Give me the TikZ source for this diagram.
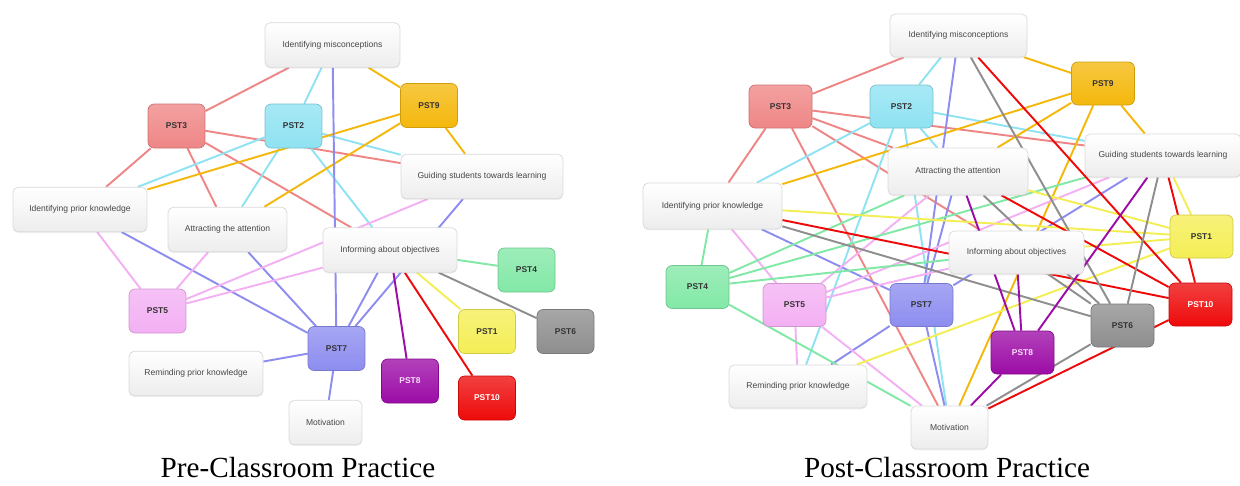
\documentclass[tikz,border=0pt]{standalone}
\usepackage{fontspec}
\setmainfont{Liberation Sans}
\newfontfamily\capfont{Liberation Serif}
\usetikzlibrary{shadows}

\pgfdeclarelayer{background}
\pgfsetlayers{background,main}

\definecolor{colOne}{HTML}{F4EE55}
\definecolor{colTwo}{HTML}{8FE2F2}
\definecolor{colThree}{HTML}{EF8686}
\definecolor{colFour}{HTML}{82E8A6}
\definecolor{colFive}{HTML}{F3B0F3}
\definecolor{colSix}{HTML}{8E8E8E}
\definecolor{colSeven}{HTML}{8D8DF0}
\definecolor{colEight}{HTML}{9C0CA6}
\definecolor{colNine}{HTML}{F4B80C}
\definecolor{colTen}{HTML}{EE0A0A}

\tikzset{
  pst/.style = {draw = #1!85!black, rounded corners = 3.5pt, top color = #1!78!white, bottom color = #1,
    minimum width = 1.14cm, minimum height = 0.88cm, inner sep = 0pt,
    font = \fontsize{4.8}{6}\selectfont\bfseries, text = black!80},
  rpst/.style = {pst = #1, minimum width = 1.26cm, minimum height = 0.86cm},
  box/.style = {draw = black!15, rounded corners = 3pt, top color = white, bottom color = black!7,
    minimum height = 0.89cm, inner sep = 0pt, font = \fontsize{4.85}{6}\selectfont, text = black!72,
    drop shadow = {opacity = 0.12, shadow xshift = 0pt, shadow yshift = -0.8pt}},
  link/.style = {line width = 1.1pt, draw = #1},
  caption/.style = {anchor = base, font = \capfont\fontsize{16.6}{20}\selectfont}
}

\begin{document}
\begin{tikzpicture} [x = 0.02cm, y = -0.02cm]
\useasboundingbox (0, 0) rectangle (1240, 485);

% Pre-classroom
\node[box, minimum width = 2.70cm] (lim) at (332.5, 45.0){Identifying misconceptions};
\node[box, minimum width = 3.24cm] (lgsl) at (482.0, 176.5){Guiding students towards learning};
\node[box, minimum width = 2.68cm] (lipk) at (80.0, 209.5){Identifying prior knowledge};
\node[box, minimum width = 2.38cm] (laa) at (227.5, 229.5){Attracting the attention};
\node[box, minimum width = 2.68cm] (liao) at (390.0, 250.0){Informing about objectives};
\node[box, minimum width = 2.68cm] (lrpk) at (196.0, 373.5){Reminding prior knowledge};
\node[box, minimum width = 1.46cm] (lmot) at (325.5, 422.5){Motivation};
\node[pst = colThree] (l3) at (176.5, 126.0){PST3};
\node[pst = colTwo] (l2) at (293.5, 126.0){PST2};
\node[pst = colNine] (l9) at (429.0, 105.5){PST9};
\node[pst = colFour] (l4) at (526.5, 270.0){PST4};
\node[pst = colFive] (l5) at (157.5, 311.0){PST5};
\node[pst = colOne] (l1) at (487.0, 331.5){PST1};
\node[pst = colSix] (l6) at (565.5, 331.5){PST6};
\node[pst = colSeven] (l7) at (336.5, 348.5){PST7};
\node[pst = colEight, text = colFive!40!white] (l8) at (410.0, 381.0){PST8};
\node[pst = colTen, text = white] (l10) at (487.0, 398.0){PST10};
\node[caption] (lcap) at (298.0, 477.0){Pre-Classroom Practice};

% Post-classroom
\node[box, minimum width = 2.74cm, minimum height = 0.86cm] (rim) at (958.5, 35.5){Identifying misconceptions};
\node[box, minimum width = 3.12cm, minimum height = 0.86cm] (rgsl) at (1163.0, 155.5){Guiding students towards learning};
\node[box, minimum width = 2.78cm, minimum height = 0.92cm] (ripk) at (712.5, 206.0){Identifying prior knowledge};
\node[box, minimum width = 2.80cm, minimum height = 0.94cm] (raa) at (958.0, 171.5){Attracting the attention};
\node[box, minimum width = 2.70cm, minimum height = 0.86cm] (riao) at (1016.5, 252.5){Informing about objectives};
\node[box, minimum width = 2.76cm, minimum height = 0.86cm] (rrpk) at (798.0, 386.5){Reminding prior knowledge};
\node[box, minimum width = 1.54cm, minimum height = 0.86cm] (rmot) at (949.5, 427.5){Motivation};
\node[rpst = colThree] (r3) at (780.5, 106.5){PST3};
\node[rpst = colTwo] (r2) at (901.5, 106.5){PST2};
\node[rpst = colNine] (r9) at (1103.0, 83.5){PST9};
\node[rpst = colOne] (r1) at (1201.5, 236.5){PST1};
\node[rpst = colFour] (r4) at (697.5, 287.0){PST4};
\node[rpst = colFive] (r5) at (794.5, 305.0){PST5};
\node[rpst = colSeven] (r7) at (921.5, 305.0){PST7};
\node[rpst = colTen, text = white] (r10) at (1200.5, 304.5){PST10};
\node[rpst = colSix] (r6) at (1122.5, 325.5){PST6};
\node[rpst = colEight, text = colFive!40!white] (r8) at (1022.5, 352.5){PST8};
\node[caption] (rcap) at (947.0, 477.0){Post-Classroom Practice};

\begin{pgfonlayer}{background}
\draw[link = colThree] (l3) -- (lim) (l3) -- (lipk) (l3) -- (laa) (l3) -- (lgsl) (l3) -- (liao);
\draw[link = colTwo] (l2) -- (lim) (l2) -- (lipk) (l2) -- (laa) (l2) -- (lgsl) (l2) -- (liao);
\draw[link = colNine] (l9) -- (lim) (l9) -- (lipk) (l9) -- (laa) (l9) -- (lgsl);
\draw[link = colSeven] (l7) -- (lim) (l7) -- (lipk) (l7) -- (laa) (l7) -- (liao) (l7) -- (lgsl) (l7) -- (lrpk) (l7) -- (lmot);
\draw[link = colFive] (l5) -- (lipk) (l5) -- (laa) (l5) -- (liao) (l5) -- (lgsl);
\draw[link = colFour] (l4) -- (liao);
\draw[link = colOne] (l1) -- (liao);
\draw[link = colSix] (l6) -- (liao);
\draw[link = colEight] (l8) -- (liao);
\draw[link = colTen] (l10) -- (liao);

\draw[link = colThree] (r3) -- (rim) (r3) -- (ripk) (r3) -- (rgsl) (r3) -- (raa) (r3) -- (riao) (r3) -- (rmot);
\draw[link = colTwo] (r2) -- (rim) (r2) -- (ripk) (r2) -- (rgsl) (r2) -- (raa) (r2) -- (rrpk) (r2) -- (rmot);
\draw[link = colNine] (r9) -- (rim) (r9) -- (rgsl) (r9) -- (ripk) (r9) -- (raa) (r9) -- (rmot);
\draw[link = colSeven] (r7) -- (rim) (r7) -- (ripk) (r7) -- (raa) (r7) -- (rgsl) (r7) -- (rrpk) (r7) -- (rmot);
\draw[link = colFive] (r5) -- (ripk) (r5) -- (raa) (r5) -- (riao) (r5) -- (rgsl) (r5) -- (rrpk) (r5) -- (rmot);
\draw[link = colFour] (r4) -- (ripk) (r4) -- (raa) (r4) -- (rgsl) (r4) -- (riao) (r4) -- (rmot);
\draw[link = colOne] (r1) -- (ripk) (r1) -- (raa) (r1) -- (rgsl) (r1) -- (riao) (r1) -- (rrpk);
\draw[link = colTen] (r10) -- (rim) (r10) -- (ripk) (r10) -- (raa) (r10) -- (rgsl) (r10) -- (rmot);
\draw[link = colSix] (r6) -- (rim) (r6) -- (ripk) (r6) -- (raa) (r6) -- (rgsl) (r6) -- (riao) (r6) -- (rmot);
\draw[link = colEight] (r8) -- (raa) (r8) -- (riao) (r8) -- (rgsl) (r8) -- (rmot);
\end{pgfonlayer}
\end{tikzpicture}
\end{document}
